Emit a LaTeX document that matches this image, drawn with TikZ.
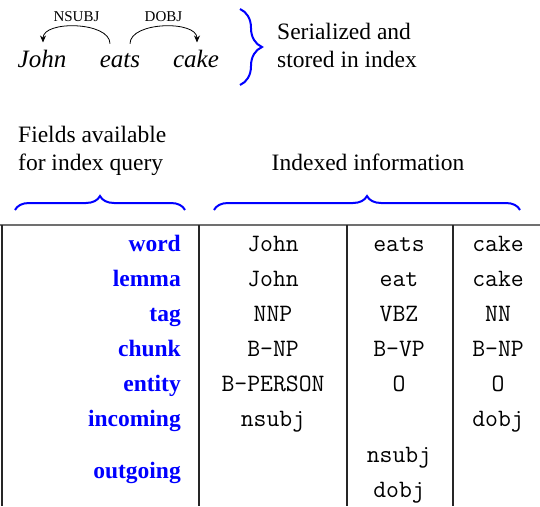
\documentclass[tikz,border=0pt]{standalone}
\usepackage{fontspec}
\setmainfont{Liberation Serif}
\definecolor{FieldBlue}{HTML}{0000FF}
\definecolor{RuleGray}{HTML}{707070}
\usetikzlibrary{arrows.meta}
\usetikzlibrary{decorations.pathreplacing}
\usetikzlibrary{positioning}

\begin{document}
\begin{tikzpicture}
	[x=1pt, y=-1pt,
	every node/.style = {inner sep=1pt, text=black},
	token/.style = {font=\fontsize{25}{28}\selectfont\itshape, anchor=base},
	dep/.style = {font=\fontsize{15}{17}\selectfont, above=3pt},
	head/.style = {font=\fontsize{23.5}{27.5}\selectfont, align=left, anchor=base west},
	field/.style = {font=\fontsize{23.5}{28}\selectfont\bfseries, text=FieldBlue, anchor=base east},
	cell/.style = {font=\fontsize{25}{28}\selectfont\ttfamily, anchor=base},
	arc/.style = {-{Stealth[length=7pt,width=6pt]}, line width=0.8pt},
	brace/.style = {draw=FieldBlue, line width=2pt, decorate, decoration={brace, amplitude=#1}},
	rule/.style = {draw=RuleGray, line width=2pt}]
	\useasboundingbox (0,0) rectangle (540,506);
	% sentence and its dependencies
	\node[token] (John) at (42,67) {John};
	\node[token] (eats) at (120,67) {eats};
	\node[token] (cake) at (196,67) {cake};
	\coordinate (nsubj-from) at ([xshift=-10pt, yshift=8pt]eats.north);
	\coordinate (nsubj-to) at ([xshift=1pt, yshift=6pt]John.north);
	\coordinate (dobj-from) at ([xshift=10pt, yshift=8pt]eats.north);
	\coordinate (dobj-to) at ([xshift=1pt, yshift=6pt]cake.north);
	\draw[arc] (nsubj-from) to[out=90, in=90, looseness=0.85] node[dep] {NSUBJ} (nsubj-to);
	\draw[arc] (dobj-from) to[out=90, in=90, looseness=0.85] node[dep] {DOBJ} (dobj-to);
	\draw[brace=22pt] (240,9) -- (240,85);
	\node[head] (serial) at (276,67) {Serialized and\\stored in index};
	% headers
	\node[head] (fields) at (17,170) {Fields available\\for index query};
	\node[head, anchor=base] (indexed) at (368,170) {Indexed information};
	\draw[brace=14pt] (15,210) -- (185,210);
	\draw[brace=14pt] (214,210) -- (520,210);
	% table
	\draw[rule] (0,225) -- (540,225);
	\foreach \x in {2,199,347,453}
		\draw[line width=1.5pt, black!85] (\x,225) -- (\x,506);
	\foreach \f/\y in {word/251, lemma/286, tag/321, chunk/356, entity/391, incoming/426, outgoing/478}
		\node[field] (\f) at (182,\y) {\f};
	\node[cell] (w1) at (273,251) {John};
	\node[cell] (l1) at (273,286) {John};
	\node[cell] (t1) at (273,321) {NNP};
	\node[cell] (c1) at (273,356) {B-NP};
	\node[cell] (e1) at (273,391) {B-PERSON};
	\node[cell] (i1) at (273,426) {nsubj};
	\node[cell] (w2) at (399,251) {eats};
	\node[cell] (l2) at (399,286) {eat};
	\node[cell] (t2) at (399,321) {VBZ};
	\node[cell] (c2) at (399,356) {B-VP};
	\node[cell] (e2) at (399,391) {O};
	\node[cell] (o2a) at (399,462) {nsubj};
	\node[cell] (o2b) at (399,497) {dobj};
	\node[cell] (w3) at (498,251) {cake};
	\node[cell] (l3) at (498,286) {cake};
	\node[cell] (t3) at (498,321) {NN};
	\node[cell] (c3) at (498,356) {B-NP};
	\node[cell] (e3) at (498,391) {O};
	\node[cell] (i3) at (498,426) {dobj};
\end{tikzpicture}
\end{document}
